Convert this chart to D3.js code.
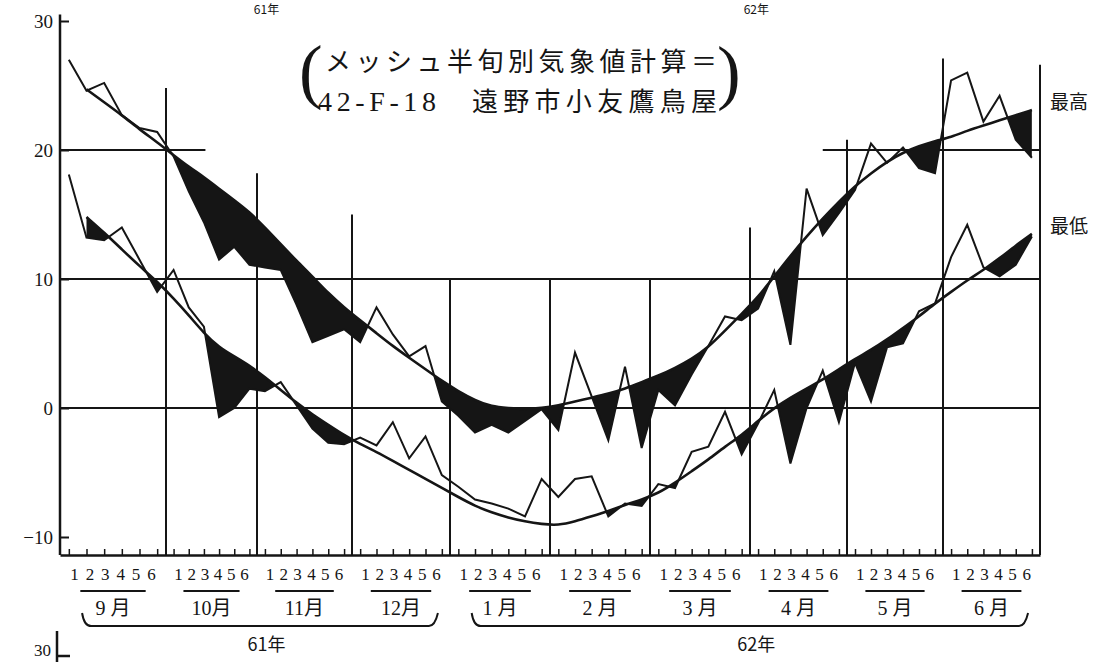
<!DOCTYPE html>
<html>
<head>
<meta charset="utf-8">
<script src="https://cdn.jsdelivr.net/npm/d3@7"></script>
<style>
  body { margin: 0; background: #fff; }
  svg { display: block; }
</style>
</head>
<body>
<div id="chart"></div>
<script>
// 半旬別 最高・最低気温 (遠野市小友鷹鳥屋) chart

// x axis labels: six 半旬 per month, ten months, two years
const periods = ["1", "2", "3", "4", "5", "6"];
const months = ["9 月", "10月", "11月", "12月", "1 月", "2 月", "3 月", "4 月", "5 月", "6 月"];
const years = ["61年", "62年"];
const yTicks = [30, 20, 10, 0, -10];

// 最高気温: observed and normal (smooth curve), Sep 1 .. Jun 6
const maxActual = [
  27.0, 24.6, 25.2, 22.7, 21.7, 21.4,
  19.5, 16.8, 14.4, 11.5, 12.5, 11.1,
  10.9, 10.7, 8.0, 5.1, 5.6, 6.1,
  5.1, 7.8, 5.7, 4.0, 4.8, 0.5,
  -0.6, -1.9, -1.3, -1.9, -1.0, -0.1,
  -1.7, 4.3, 0.9, -2.5, 3.2, -3.1,
  1.4, 0.2, 2.6, 4.8, 7.1, 6.8,
  7.7, 10.6, 4.9, 17.0, 13.4, 15.1,
  16.9, 20.5, 19.0, 20.2, 18.6, 18.2,
  25.4, 26.0, 22.2, 24.2, 20.8, 19.4
];
const maxNormal = [
  null, 24.7, 23.7, 22.7, 21.6, 20.6,
  19.6, 18.7, 17.9, 17.0, 16.1, 15.2,
  14.0, 12.7, 11.4, 10.2, 8.9, 7.8,
  6.8, 5.8, 4.8, 3.9, 3.0, 2.1,
  1.3, 0.6, 0.1, 0.0, -0.1, 0.0,
  0.2, 0.5, 0.8, 1.1, 1.5, 2.0,
  2.5, 3.1, 3.8, 4.7, 6.0, 7.3,
  8.6, 10.2, 11.8, 13.3, 14.7, 16.0,
  17.2, 18.2, 19.1, 19.8, 20.3, 20.7,
  21.0, 21.5, 21.9, 22.3, 22.7, 23.1
];

// 最低気温: observed and normal
const minActual = [
  18.1, 13.2, 13.0, 14.0, 11.5, 9.0,
  10.7, 7.8, 6.3, -0.7, 0.0, 1.5,
  1.3, 2.0, 0.2, -1.6, -2.7, -2.8,
  -2.3, -2.9, -1.1, -3.9, -2.2, -5.2,
  -6.1, -7.1, -7.4, -7.8, -8.4, -5.5,
  -6.9, -5.5, -5.3, -8.4, -7.4, -7.6,
  -5.9, -6.2, -3.4, -3.0, -0.3, -3.6,
  -1.2, 1.4, -4.3, 0.0, 2.9, -1.1,
  3.5, 0.5, 4.7, 5.0, 7.5, 8.1,
  11.7, 14.2, 10.9, 10.2, 11.1, 13.3
];
const minNormal = [
  null, 14.8, 13.6, 12.3, 11.0, 9.8,
  8.5, 7.2, 5.8, 4.7, 4.0, 3.3,
  2.4, 1.4, 0.4, -0.5, -1.3, -2.1,
  -2.8, -3.4, -4.1, -4.8, -5.5, -6.2,
  -6.9, -7.6, -8.1, -8.5, -8.8, -9.0,
  -9.1, -8.8, -8.4, -8.0, -7.5, -7.1,
  -6.6, -5.8, -4.9, -4.0, -3.0, -2.1,
  -1.0, 0.0, 0.8, 1.5, 2.2, 3.0,
  3.8, 4.5, 5.3, 6.2, 7.1, 8.1,
  9.0, 9.9, 10.7, 11.6, 12.6, 13.5
];

// grid: month lines stop at these values (°C), partial 20° line, full 10° and 0° lines
const monthLineTops = [24.8, 18.2, 15.0, 10, 10, 10, 14.0, 20.8, 27.1, 26.6];
const gridRows = [
  { v: 20, from: 0, to: 8.6 },
  { v: 20, from: 46.5, to: 60 },
  { v: 10, from: 0, to: 60 },
  { v: 0, from: 0, to: 60 }
];

const height = 662,
    width = 1093,
    margin = ({ top: 21, right: 53, bottom: 107, left: 60 });

const ink = "#151515";
const serif = "'Liberation Serif', 'Noto Sans CJK JP', serif";
const cjk = "'Noto Sans CJK JP', sans-serif";

const svg = d3.select("#chart")
    .append("svg")
    .attr("width", width)
    .attr("height", height)
    .attr("viewBox", [0, 0, width, height])
    .style("background", "#fff");

// month edges follow the printed grid (months are not quite equal width)
const monthEdges = [60, 166, 257, 352, 450, 550, 650, 750, 847, 943, 1040];
let x = d3.scaleLinear()
    .domain(d3.range(0, 61, 6))
    .range(monthEdges);

let y = d3.scaleLinear()
    .domain([-10, 30])
    .range([537, margin.top]);

const axisY = height - margin.bottom;
const px = i => x(i + 0.5); // each value sits in the middle of its 半旬

const series = [
  { id: "max", actual: maxActual, normal: maxNormal },
  { id: "min", actual: minActual, normal: minNormal }
];

// ---- black fill where observed < normal (clip: below normal curve) ----
const defs = svg.append("defs");

for (let s of series) {
    let data = d3.range(60).map(i => ({ i: i, a: s.actual[i], n: s.normal[i] }));

    defs.append("clipPath")
        .attr("id", "below-" + s.id)
      .append("path")
        .datum(data.filter(d => d.n != null))
        .attr("d", d3.area()
            .x(d => px(d.i))
            .y0(axisY)
            .y1(d => y(d.n))
            .curve(d3.curveBasis));

    svg.append("path")
        .datum(data.filter(d => d.a != null))
        .attr("d", d3.area()
            .x(d => px(d.i))
            .y0(0)
            .y1(d => y(d.a)))
        .attr("clip-path", `url(#below-${s.id})`)
        .attr("fill", ink);
}

// ---- grid ----
svg.append("g")
    .selectAll("line")
    .data(gridRows)
    .join("line")
      .attr("x1", d => x(d.from))
      .attr("x2", d => x(d.to))
      .attr("y1", d => y(d.v))
      .attr("y2", d => y(d.v))
      .attr("stroke", ink)
      .attr("stroke-width", 2);

svg.append("g")
    .selectAll("line")
    .data(monthLineTops)
    .join("line")
      .attr("x1", (d, m) => x((m + 1) * 6))
      .attr("x2", (d, m) => x((m + 1) * 6))
      .attr("y1", d => y(d))
      .attr("y2", axisY)
      .attr("stroke", ink)
      .attr("stroke-width", 2);

// ---- y axis ----
svg.append("g")
    .attr("transform", `translate(${margin.left},0)`)
    .attr("class", "y-axis")
    .call(d3.axisLeft(y)
      .tickValues(yTicks)
      .tickSize(-9)
      .tickSizeOuter(0)
      .tickPadding(7)
      .tickFormat(d => d < 0 ? "\u2212" + Math.abs(d) : d))
    .call(g => g.select(".domain").remove())
    .call(g => g.selectAll(".tick line").attr("stroke-width", 2))
    .attr("color", ink)
    .attr("font-size", 19)
    .attr("font-family", serif);

svg.append("line") // left axis line
    .attr("x1", margin.left).attr("x2", margin.left)
    .attr("y1", y(30.5)).attr("y2", axisY)
    .attr("stroke", ink)
    .attr("stroke-width", 2.5);

// ---- x axis: 半旬 tick marks ----
svg.append("g")
    .attr("transform", `translate(0,${axisY})`)
    .attr("class", "x-axis")
    .call(d3.axisBottom(x)
      .tickValues(d3.range(60).map(i => i + 0.5))
      .tickFormat("")
      .tickSize(-6)
      .tickSizeOuter(0))
    .call(g => g.select(".domain").attr("stroke-width", 2.5))
    .call(g => g.selectAll(".tick line").attr("stroke-width", 1.5))
    .attr("color", ink);

// 半旬 numbers 1..6, typed a little tighter than the ticks, centred in each month
svg.append("g")
    .selectAll("text")
    .data(d3.range(60))
    .join("text")
      .attr("x", i => {
        let m = Math.floor(i / 6), k = i % 6;
        let w = x(6 * m + 6) - x(6 * m);
        return x(6 * m + 3) + (k - 2.5) * w * 0.145;
      })
      .attr("y", axisY + 13)
      .attr("dy", "0.71em")
      .attr("text-anchor", "middle")
      .attr("font-family", serif)
      .attr("font-size", 17)
      .attr("fill", ink)
      .text(i => periods[i % 6]);

// ---- data lines: smooth normal curve + observed polyline ----
for (let s of series) {
    let data = d3.range(60).map(i => ({ i: i, a: s.actual[i], n: s.normal[i] }));

    let normalLine = d3.line()
        .defined(d => d.n != null)
        .x(d => px(d.i))
        .y(d => y(d.n))
        .curve(d3.curveBasis);

    let actualLine = d3.line()
        .defined(d => d.a != null)
        .x(d => px(d.i))
        .y(d => y(d.a));

    svg.append("path")
        .datum(data)
        .attr("d", normalLine)
        .attr("fill", "none")
        .attr("stroke", ink)
        .attr("stroke-width", 2.6);

    svg.append("path")
        .datum(data)
        .attr("d", actualLine)
        .attr("fill", "none")
        .attr("stroke", ink)
        .attr("stroke-width", 2)
        .attr("stroke-linejoin", "miter");
}

// series labels at the right end of the normal curves
svg.append("g")
    .selectAll("text")
    .data([{ t: "最高", v: maxNormal[59] }, { t: "最低", v: minNormal[59] }])
    .join("text")
      .attr("x", x(60) + 10)
      .attr("y", d => y(d.v) - 8)
      .attr("dy", "0.35em")
      .attr("font-family", cjk)
      .attr("font-size", 19)
      .attr("fill", ink)
      .text(d => d.t);

// ---- month underlines, month labels, year braces ----
svg.append("g")
    .selectAll("line")
    .data(months)
    .join("line")
      .attr("x1", (d, m) => x(m * 6 + 1.15))
      .attr("x2", (d, m) => x(m * 6 + 4.85))
      .attr("y1", axisY + 36)
      .attr("y2", axisY + 36)
      .attr("stroke", ink)
      .attr("stroke-width", 2);

svg.append("g")
    .selectAll("text")
    .data(months)
    .join("text")
      .attr("x", (d, m) => x(m * 6 + 3))
      .attr("y", axisY + 53)
      .attr("dy", "0.35em")
      .attr("text-anchor", "middle")
      .attr("font-family", serif)
      .attr("font-size", 20)
      .attr("fill", ink)
      .text(d => d);

const braces = [{ from: 1.25, to: 23.2 }, { from: 25.3, to: 59.2 }];
const braceY = axisY + 71;

svg.append("g")
    .selectAll("path")
    .data(braces)
    .join("path")
      .attr("d", d => {
        let a = x(d.from), b = x(d.to);
        return `M${a},${braceY - 13} Q${a + 2},${braceY} ${a + 9},${braceY} L${b - 8},${braceY} Q${b - 2},${braceY} ${b + 1},${braceY - 13}`;
      })
      .attr("fill", "none")
      .attr("stroke", ink)
      .attr("stroke-width", 2);

svg.append("g")
    .selectAll("text")
    .data(braces)
    .join("text")
      .attr("x", d => (x(d.from) + x(d.to)) / 2 + 7)
      .attr("y", braceY + 25)
      .attr("text-anchor", "middle")
      .attr("font-family", cjk)
      .attr("font-size", 18)
      .attr("fill", ink)
      .text((d, k) => years[k]);

// year labels of the chart above (the scan only catches their lower edge)
svg.append("g")
    .selectAll("text")
    .data(braces)
    .join("text")
      .attr("x", d => (x(d.from) + x(d.to)) / 2 + 7)
      .attr("y", 14)
      .attr("text-anchor", "middle")
      .attr("font-family", cjk)
      .attr("font-size", 12)
      .attr("fill", ink)
      .text((d, k) => years[k]);

// "30" corner of the chart below
svg.append("text")
    .attr("x", margin.left - 9)
    .attr("y", 656)
    .attr("text-anchor", "end")
    .attr("font-family", serif)
    .attr("font-size", 17)
    .attr("fill", ink)
    .text("30");
svg.append("path")
    .attr("d", `M${margin.left - 3},631 V662 M${margin.left - 3},656 H${margin.left + 10}`)
    .attr("fill", "none")
    .attr("stroke", ink)
    .attr("stroke-width", 2.5);

// ---- title (メッシュ半旬別気象値計算) ----
const title = svg.append("g").attr("fill", ink);

title.append("text")
    .attr("x", 299).attr("y", 95)
    .attr("font-family", serif)
    .attr("font-size", 71)
    .text("(");
title.append("text")
    .attr("x", 717).attr("y", 96)
    .attr("font-family", serif)
    .attr("font-size", 71)
    .text(")");

title.append("text")
    .attr("x", 325).attr("y", 71)
    .attr("font-family", cjk)
    .attr("font-size", 26)
    .attr("textLength", 392)
    .attr("lengthAdjust", "spacing")
    .text("メッシュ半旬別気象値計算＝");
title.append("text")
    .attr("x", 318).attr("y", 111)
    .attr("font-family", serif)
    .attr("font-size", 28)
    .attr("textLength", 118)
    .attr("lengthAdjust", "spacing")
    .text("42-F-18");
title.append("text")
    .attr("x", 472).attr("y", 111)
    .attr("font-family", cjk)
    .attr("font-size", 26)
    .attr("textLength", 245)
    .attr("lengthAdjust", "spacing")
    .text("遠野市小友鷹鳥屋");
</script>
</body>
</html>
